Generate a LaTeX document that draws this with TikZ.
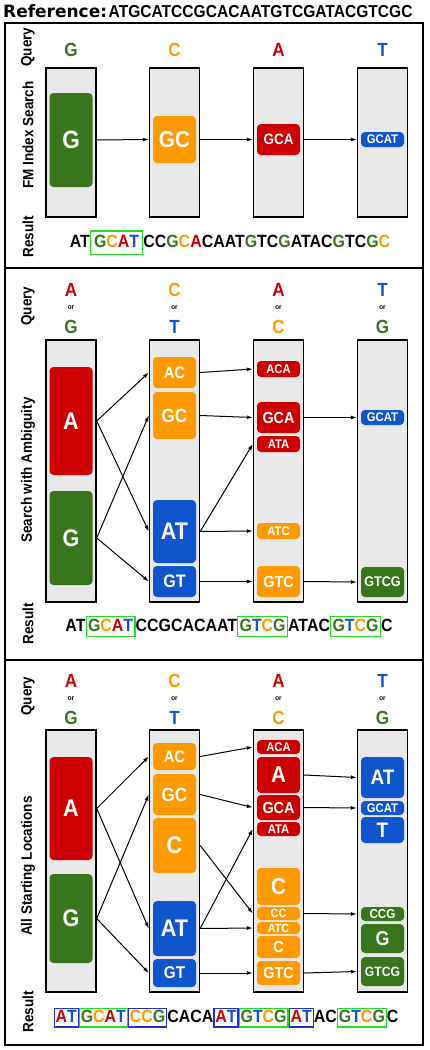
\documentclass[tikz,border=0pt]{standalone}
\usepackage{fontspec}
\setmainfont[FakeStretch=0.9]{Liberation Sans}
\newfontfamily\headfont{DejaVu Sans}
\usepackage{xcolor}
\usepackage{tikz}
\usetikzlibrary{arrows.meta,calc}
\definecolor{cA}{HTML}{CC0000}
\definecolor{cC}{HTML}{FF9900}
\definecolor{cG}{HTML}{38761D}
\definecolor{cT}{HTML}{1155CC}
\definecolor{cLane}{HTML}{E8E8E8}
\definecolor{cHitG}{HTML}{22DD22}
\definecolor{cHitB}{HTML}{2233CC}
\newcommand{\fs}[1]{\fontsize{#1}{#1}\selectfont\bfseries}
\newcommand{\bA}{\textcolor{cA}{A}}
\newcommand{\bC}{\textcolor{cC}{C}}
\newcommand{\bG}{\textcolor{cG}{G}}
\newcommand{\bT}{\textcolor{cT}{T}}
\newcommand{\found}[3][1.3pt]{{\setlength{\fboxsep}{#1}\setlength{\fboxrule}{1.2pt}\fcolorbox{#2}{white}{\rule[-3.5pt]{0pt}{15.5pt}#3}}}
\tikzset{
  panel/.style={line width=1.5pt},
  lane/.style={draw,line width=1.4pt,fill=cLane,minimum width=50pt,inner sep=0pt},
  hit/.style={rounded corners=4pt,minimum width=43pt,inner sep=0pt,text=white},
  ask/.style={font=\fs{19},inner sep=0pt},
  askor/.style={font=\fs{7},inner sep=0pt},
  side/.style={rotate=90,font=\fs{15},inner sep=0pt},
  res/.style={anchor=base,font=\fs{17.7},inner sep=0pt},
  link/.style={line width=1pt,-{Latex[length=6pt,width=4pt]}}
}
\newcommand{\lane}[4]{\node[lane,minimum height={#4-#3}] (#1) at (#2,{(#3+#4)/2}) {};}
\newcommand{\hit}[7]{\node[hit,fill=#6,font=\fs{#7},minimum height={#4-#3}] (#1) at (#2,{(#3+#4)/2}) {#5};}
\newcommand{\ask}[4]{\node[ask] (#1) at (#2,#3) {#4};}
\newcommand{\askor}[5]{%
  \node[ask] (#1a) at (#2,#3) {#4};
  \node[askor] (#1o) at (#2,#3+18) {or};
  \node[ask] (#1b) at (#2,#3+36.5) {#5};}
\newcommand{\link}[4]{\draw[link] (#1.east |- #2) -- (#3.west |- #4);}

\begin{document}
\begin{tikzpicture}[x=1pt,y=-1pt,font=\bfseries]
  \useasboundingbox (0,0) rectangle (429,1050);
  \node[anchor=base west,inner sep=0pt] (ref) at (3,17) {{\headfont\fs{17}Reference:}\hspace{1.5pt}{\fs{17.3}ATGCATCCGCACAATGTCGATACGTCGC}};
  \draw[panel] (5,23) rectangle (423,268);
  \draw[panel] (5,268) rectangle (423,660);
  \draw[panel] (5,660) rectangle (423,1045);

  % FM index search
  \node[side] (s1q) at (28,47) {Query};
  \node[side] (s1m) at (28,135) {FM Index Search};
  \node[side] (s1r) at (28,237) {Result};
  \ask{q11}{71}{50}{\bG}
  \ask{q12}{174.5}{50}{\bC}
  \ask{q13}{278.5}{50}{\bA}
  \ask{q14}{382.5}{50}{\bT}
  \lane{c11}{71}{68}{217}
  \lane{c12}{174.5}{68}{217}
  \lane{c13}{278.5}{68}{217}
  \lane{c14}{382.5}{68}{217}
  \hit{h11}{71}{93}{187}{G}{cG}{25}
  \hit{h12}{174.5}{116}{163}{GC}{cC}{23}
  \hit{h13}{278.5}{124}{155}{GCA}{cA}{15}
  \hit{h14}{382.5}{132}{147}{GCAT}{cT}{12.5}
  \link{c11}{h11}{c12}{h12}
  \link{c12}{h12}{c13}{h13}
  \link{c13}{h13}{c14}{h14}
  \node[res] (r1) at (230,247) {AT\found[3pt]{cHitG}{\bG\bC\bA\bT}CC\bG\bC\bA CAAT\bG TC\bG ATAC\bG TC\bG\bC};

  % search with ambiguity
  \node[side] (s2q) at (28,306) {Query};
  \node[side] (s2m) at (28,470) {Search with Ambiguity};
  \node[side] (s2r) at (28,624) {Result};
  \askor{q21}{71}{290}{\bA}{\bG}
  \askor{q22}{174.5}{290}{\bC}{\bT}
  \askor{q23}{278.5}{290}{\bA}{\bC}
  \askor{q24}{382.5}{290}{\bT}{\bG}
  \lane{c21}{71}{340}{602}
  \lane{c22}{174.5}{340}{602}
  \lane{c23}{278.5}{340}{602}
  \lane{c24}{382.5}{340}{602}
  \hit{h21a}{71}{367}{475}{A}{cA}{24}
  \hit{h21b}{71}{491}{585}{G}{cG}{24}
  \hit{h22a}{174.5}{357}{388}{AC}{cC}{16.5}
  \hit{h22b}{174.5}{392}{439}{GC}{cC}{19}
  \hit{h22c}{174.5}{500}{563}{AT}{cT}{24}
  \hit{h22d}{174.5}{566}{597}{GT}{cT}{18}
  \hit{h23a}{278.5}{361}{377}{ACA}{cA}{12.5}
  \hit{h23b}{278.5}{402}{433}{GCA}{cA}{16}
  \hit{h23c}{278.5}{436}{452}{ATA}{cA}{12.5}
  \hit{h23d}{278.5}{523}{539}{ATC}{cC}{12.5}
  \hit{h23e}{278.5}{566}{597}{GTC}{cC}{16}
  \hit{h24a}{382.5}{410}{425}{GCAT}{cT}{12.5}
  \hit{h24b}{382.5}{567}{597}{GTCG}{cG}{14}
  \link{c21}{h21a}{c22}{h22a}
  \link{c21}{h21a}{c22}{h22c}
  \link{c21}{h21b}{c22}{h22b}
  \link{c21}{h21b}{c22}{h22d}
  \link{c22}{h22a}{c23}{h23a}
  \link{c22}{h22b}{c23}{h23b}
  \link{c22}{h22c}{c23}{h23c}
  \link{c22}{h22c}{c23}{h23d}
  \link{c22}{h22d}{c23}{h23e}
  \link{c23}{h23b}{c24}{h24a}
  \link{c23}{h23e}{c24}{h24b}
  \node[res] (r2) at (229,631) {AT\found{cHitG}{\bG\bC\bA\bT}CCGCACAAT\found{cHitG}{\bG\bT\bC\bG}ATAC\found{cHitG}{\bG\bT\bC\bG}C};

  % all starting locations
  \node[side] (s3q) at (28,696) {Query};
  \node[side] (s3m) at (28,866) {All Starting Locations};
  \node[side] (s3r) at (28,1012) {Result};
  \askor{q31}{71}{681}{\bA}{\bG}
  \askor{q32}{174.5}{681}{\bC}{\bT}
  \askor{q33}{278.5}{681}{\bA}{\bC}
  \askor{q34}{382.5}{681}{\bT}{\bG}
  \lane{c31}{71}{730}{992}
  \lane{c32}{174.5}{730}{992}
  \lane{c33}{278.5}{730}{992}
  \lane{c34}{382.5}{730}{992}
  \hit{h31a}{71}{757}{860}{A}{cA}{24}
  \hit{h31b}{71}{874}{963}{G}{cG}{24}
  \hit{h32a}{174.5}{743}{770}{AC}{cC}{16.5}
  \hit{h32b}{174.5}{774}{815}{GC}{cC}{19}
  \hit{h32c}{174.5}{818}{873}{C}{cC}{24}
  \hit{h32d}{174.5}{901}{956}{AT}{cT}{24}
  \hit{h32e}{174.5}{959}{987}{GT}{cT}{17}
  \hit{h33a}{278.5}{740}{754}{ACA}{cA}{12.5}
  \hit{h33b}{278.5}{757}{793}{A}{cA}{23}
  \hit{h33c}{278.5}{795}{820}{GCA}{cA}{16}
  \hit{h33d}{278.5}{822}{836}{ATA}{cA}{12.5}
  \hit{h33e}{278.5}{868}{905}{C}{cC}{23}
  \hit{h33f}{278.5}{907}{920}{CC}{cC}{12}
  \hit{h33g}{278.5}{922}{934}{ATC}{cC}{12}
  \hit{h33h}{278.5}{936}{958}{C}{cC}{16}
  \hit{h33i}{278.5}{961}{985}{GTC}{cC}{16}
  \hit{h34a}{382.5}{757}{798}{AT}{cT}{21}
  \hit{h34b}{382.5}{801}{815}{GCAT}{cT}{12.5}
  \hit{h34c}{382.5}{817}{843}{T}{cT}{21}
  \hit{h34d}{382.5}{907}{921}{CCG}{cG}{13}
  \hit{h34e}{382.5}{924}{953}{G}{cG}{20}
  \hit{h34f}{382.5}{957}{986}{GTCG}{cG}{13.5}
  \link{c31}{h31a}{c32}{h32a}
  \link{c31}{h31a}{c32}{h32d}
  \link{c31}{h31b}{c32}{h32b}
  \link{c31}{h31b}{c32}{h32e}
  \link{c32}{h32a}{c33}{h33a}
  \link{c32}{h32b}{c33}{h33c}
  \link{c32}{h32c}{c33}{h33f}
  \link{c32}{h32d}{c33}{h33d}
  \link{c32}{h32d}{c33}{h33g}
  \link{c32}{h32e}{c33}{h33i}
  \link{c33}{h33b}{c34}{h34a}
  \link{c33}{h33c}{c34}{h34b}
  \link{c33}{h33f}{c34}{h34d}
  \link{c33}{h33i}{c34}{h34f}
  \node[res] (r3) at (226,1022) {\found[0.8pt]{cHitB}{\bA\bT}\found[0.8pt]{cHitG}{\bG\bC\bA\bT}\found[0.8pt]{cHitB}{\bC\bC\bG}CACA\found[0.8pt]{cHitB}{\bA\bT}\found[0.8pt]{cHitG}{\bG\bT\bC\bG}\found[0.8pt]{cHitB}{\bA\bT}AC\found[0.8pt]{cHitG}{\bG\bT\bC\bG}C};
\end{tikzpicture}
\end{document}
